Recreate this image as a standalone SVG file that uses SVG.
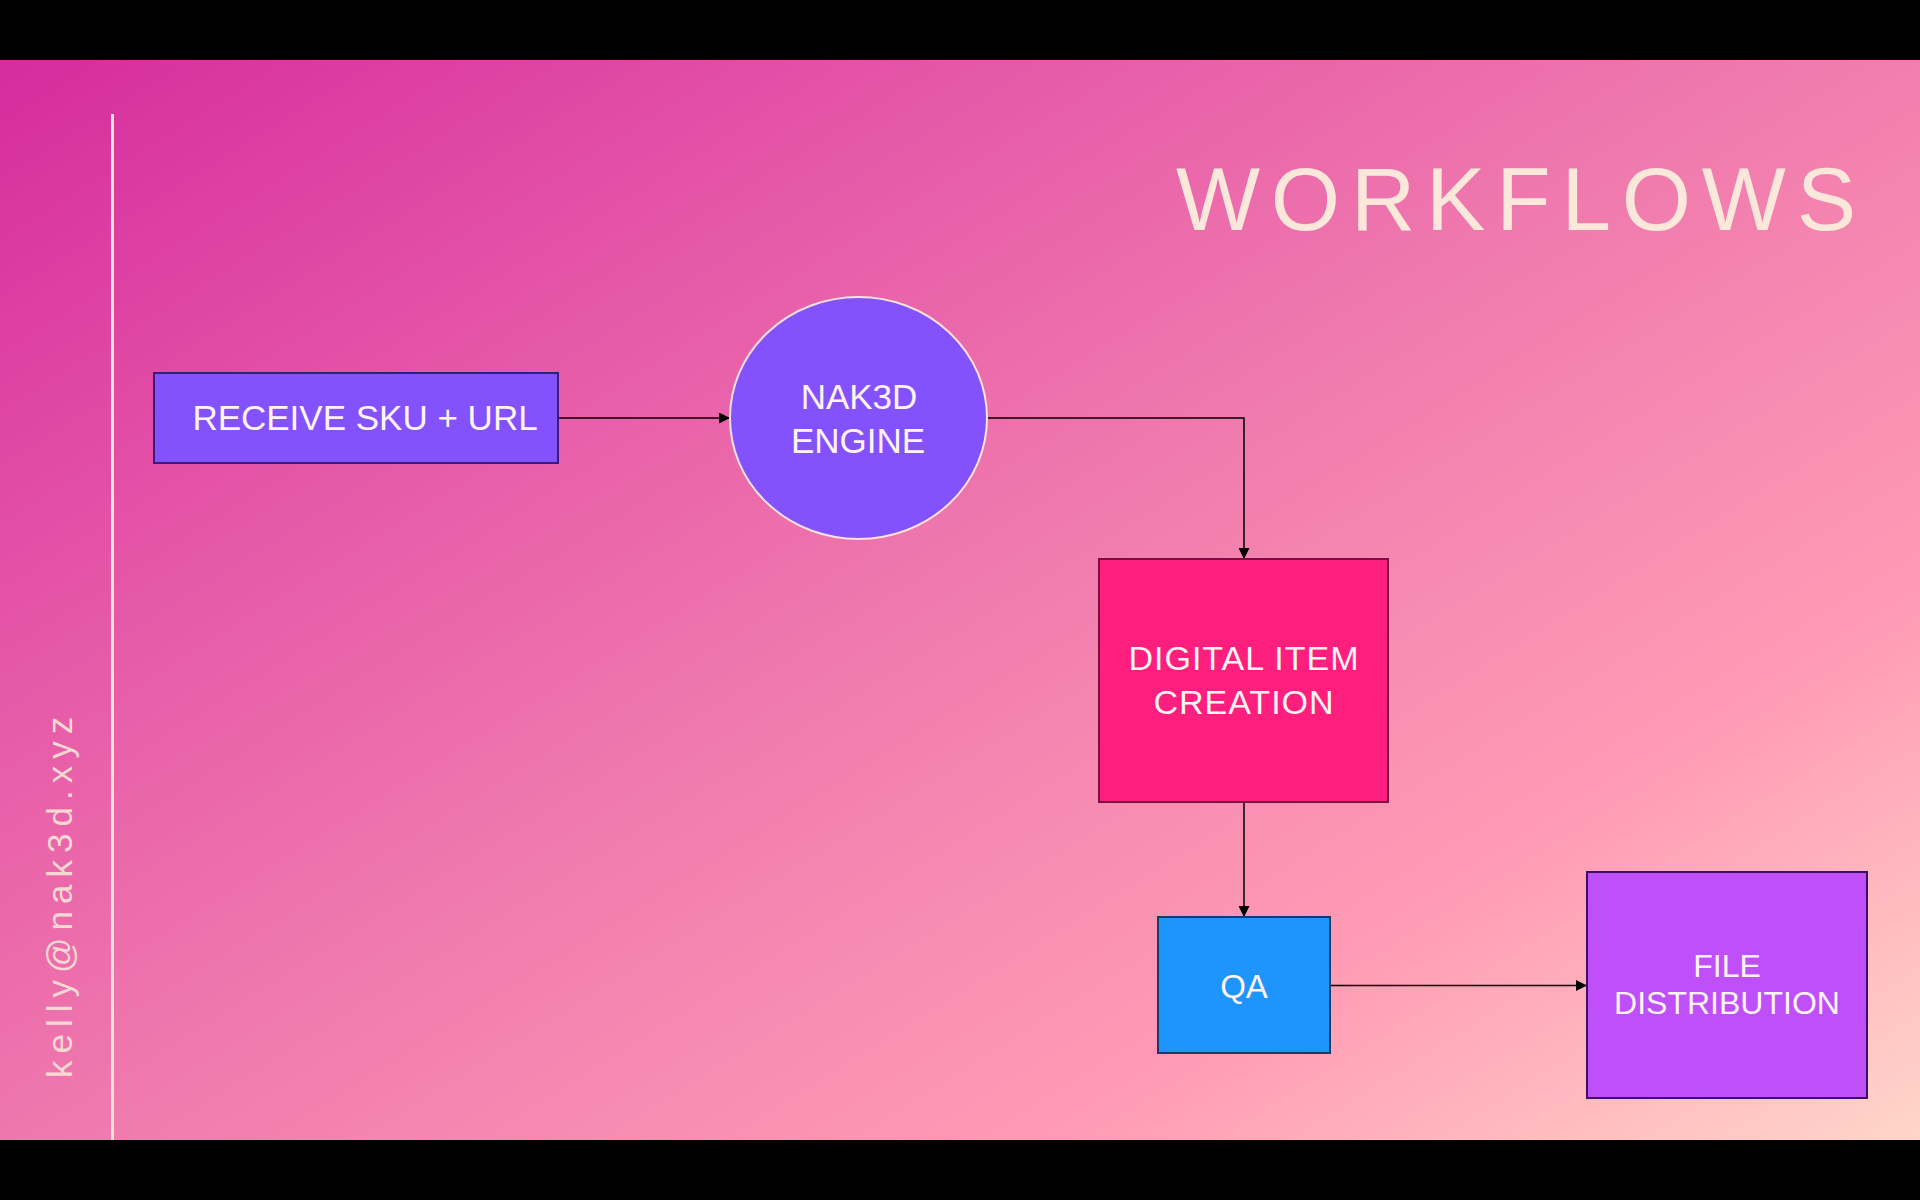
<svg xmlns="http://www.w3.org/2000/svg" width="1920" height="1200" viewBox="0 0 1920 1200">
<defs>
<linearGradient id="bg" x1="0" y1="0" x2="1" y2="1">
<stop offset="0" stop-color="#d4289c"/>
<stop offset="0.25" stop-color="#e452a7"/>
<stop offset="0.5" stop-color="#f07bae"/>
<stop offset="0.75" stop-color="#ff9bb5"/>
<stop offset="1" stop-color="#ffdccb"/>
</linearGradient>
<marker id="arr" viewBox="0 0 10 10" refX="10" refY="5" markerWidth="12" markerHeight="11" markerUnits="userSpaceOnUse" orient="auto">
<path d="M0,0 L10,5 L0,10 z" fill="#000"/>
</marker>
<style>
.lbl{font-family:"Liberation Sans",Arial,sans-serif;fill:#fff4f2;text-anchor:middle}
.conn{fill:none;stroke:#000;stroke-width:1.5;marker-end:url(#arr)}
</style>
</defs>
<rect x="0" y="0" width="1920" height="1200" fill="url(#bg)"/>
<rect x="0" y="0" width="1920" height="60" fill="#000"/>
<rect x="0" y="1140" width="1920" height="60" fill="#000"/>
<line x1="112.5" y1="114" x2="112.5" y2="1140" stroke="#fbe3d6" stroke-width="3"/>
<text x="1176" y="230" font-family="Liberation Sans, Arial, sans-serif" font-size="89" fill="#fbe8da" textLength="680" lengthAdjust="spacing">WORKFLOWS</text>
<text transform="translate(72,1078) rotate(-90)" font-family="Liberation Sans, Arial, sans-serif" font-size="35" letter-spacing="7" fill="#f8d8d2">kelly@nak3d.xyz</text>
<g id="connectors">
<path class="conn" d="M558,418 L730,418"/>
<path class="conn" d="M987,418 L1244,418 L1244,559"/>
<path class="conn" d="M1244,802 L1244,917"/>
<path class="conn" d="M1330,985.5 L1587,985.5"/>
</g>
<g id="receive">
<rect x="154" y="373" width="404" height="90" fill="#8452fc" stroke="#3a1a7c" stroke-width="2"/>
<text class="lbl" x="365" y="430" font-size="35">RECEIVE SKU + URL</text>
</g>
<g id="engine">
<ellipse cx="858.5" cy="418" rx="128.5" ry="121" fill="#8452fc" stroke="#fbe3d9" stroke-width="2"/>
<text class="lbl" x="859" y="409" font-size="35" fill="#fbe6e0">NAK3D</text>
<text class="lbl" x="858" y="453" font-size="35">ENGINE</text>
</g>
<g id="digital">
<rect x="1099" y="559" width="289" height="243" fill="#fe1e7e" stroke="#7c0d40" stroke-width="2"/>
<text class="lbl" x="1244" y="670" font-size="34" letter-spacing="1">DIGITAL ITEM</text>
<text class="lbl" x="1244" y="714" font-size="34" letter-spacing="1">CREATION</text>
</g>
<g id="qa">
<rect x="1158" y="917" width="172" height="136" fill="#1d95fc" stroke="#123f6a" stroke-width="2"/>
<text class="lbl" x="1244" y="998" font-size="33">QA</text>
</g>
<g id="file">
<rect x="1587" y="872" width="280" height="226" fill="#bf4ff9" stroke="#3c0f66" stroke-width="2"/>
<text class="lbl" x="1727" y="977" font-size="32">FILE</text>
<text class="lbl" x="1727" y="1014" font-size="32">DISTRIBUTION</text>
</g>
</svg>
